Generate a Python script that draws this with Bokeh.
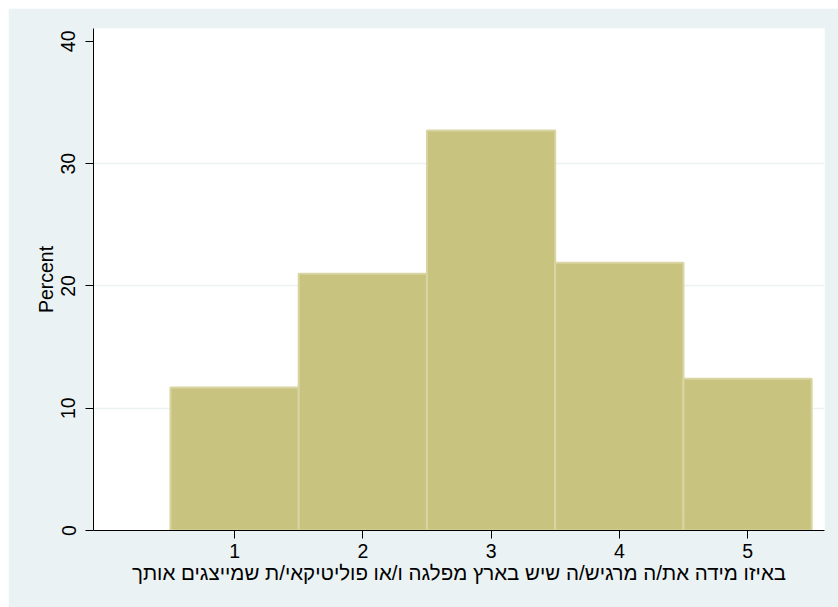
from bokeh.plotting import figure
from bokeh.models import Range1d, FixedTicker
from bokeh.embed import file_html
from bokeh.resources import INLINE

categories = [1, 2, 3, 4, 5]
percents = [11.7, 21.0, 32.7, 21.9, 12.4]
y_ticks = [0, 10, 20, 30, 40]
x_title = "באיזו מידה את/ה מרגיש/ה שיש בארץ מפלגה ו/או פוליטיקאי/ת שמייצגים אותך"
y_title = "Percent"

FONT = "Liberation Sans"
BG = "#EAF2F3"

p = figure(width=830, height=599, output_backend="svg", toolbar_location=None,
           x_range=Range1d(-0.1, 5.6), y_range=Range1d(0, 41.05),
           min_border_left=85, min_border_right=14, min_border_top=20, min_border_bottom=77)
p.margin = (8, 0, 0, 8)
p.border_fill_color = BG
p.background_fill_color = "white"
p.outline_line_color = None

p.vbar(x=categories, width=1.0, top=percents, bottom=0,
       fill_color="#C9C380", line_color="#D9D5A2", line_width=2)

p.xgrid.visible = False
p.ygrid.ticker = FixedTicker(ticks=[10, 20, 30])
p.ygrid.grid_line_color = BG
p.ygrid.grid_line_width = 1.5

for ax in (p.xaxis[0], p.yaxis[0]):
    ax.axis_line_color = "black"
    ax.axis_line_width = 1
    ax.major_tick_line_color = "black"
    ax.major_tick_out = 8
    ax.major_tick_in = 0
    ax.minor_tick_line_color = None
    ax.major_label_text_font = FONT
    ax.major_label_text_font_size = "19.5px"
    ax.major_label_text_color = "black"
    ax.axis_label_text_font = FONT
    ax.axis_label_text_font_size = "19.5px"
    ax.axis_label_text_font_style = "normal"
    ax.axis_label_text_color = "black"

p.xaxis.ticker = FixedTicker(ticks=categories)
p.yaxis.ticker = FixedTicker(ticks=y_ticks)
p.xaxis.axis_label = x_title
p.xaxis.axis_label_text_font_size = "20.5px"
p.yaxis.axis_label = y_title
p.yaxis.major_label_orientation = "vertical"
p.yaxis.major_label_standoff = 10
p.yaxis.axis_label_standoff = 2
p.xaxis.major_label_standoff = 5
p.xaxis.axis_label_standoff = 0

open("out.html", "w").write(file_html(p, INLINE))
